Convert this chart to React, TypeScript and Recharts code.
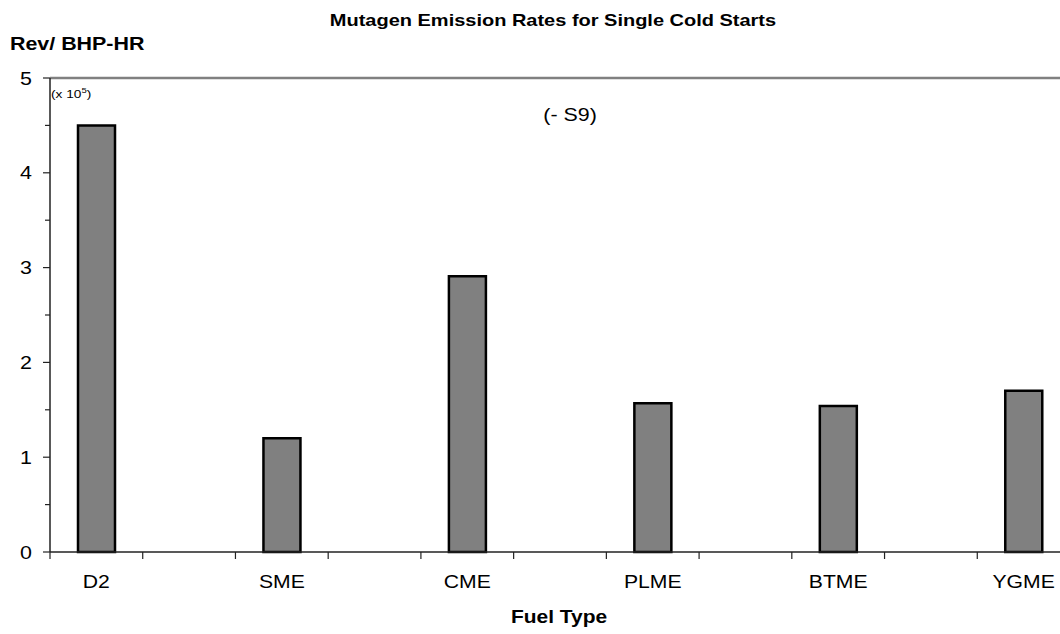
import React from 'react';
import { BarChart, Bar, XAxis, YAxis, ReferenceLine } from 'recharts';

// fuel types, with empty slots between them on the category axis
const fuelTypes = ['D2', 'SME', 'CME', 'PLME', 'BTME', 'YGME'];
// revertants per BHP-HR, in units of 10^5
const mutagenRates = [4.5, 1.2, 2.91, 1.57, 1.54, 1.7];
const yTicks = [0, 0.5, 1, 1.5, 2, 2.5, 3, 3.5, 4, 4.5, 5];

const data: Array<{ name: string; rate: number | null }> = [];
fuelTypes.forEach((name, i) => {
  if (i > 0) data.push({ name: '', rate: null });
  data.push({ name, rate: mutagenRates[i] });
});

const FONT = '"Liberation Sans", Arial, sans-serif';
const STRETCH = 1.19;

// text drawn slightly wider than the font's own proportions
const WideText = ({ x, y, size, bold, anchor = 'start', children }: any) => (
  <text
    transform={`translate(${x},${y}) scale(${STRETCH},1)`}
    fontSize={size}
    fontWeight={bold ? 'bold' : 'normal'}
    textAnchor={anchor}
    fill="#000"
    fontFamily={FONT}
  >
    {children}
  </text>
);

const YTick = ({ x, y, payload }: any) => {
  const major = Number.isInteger(payload.value);
  return (
    <g>
      <line x1={x - (major ? 7 : 5)} x2={x} y1={y} y2={y} stroke="#222" strokeWidth={1.2} />
      {major && (
        <WideText x={x - 18} y={y + 6.5} size={18} anchor="end">
          {payload.value}
        </WideText>
      )}
    </g>
  );
};

const XTick = ({ x, y, payload }: any) => {
  const edge = x - (payload.offset ?? 0);
  return (
    <g>
      <line x1={edge} x2={edge} y1={y} y2={y + 7} stroke="#222" strokeWidth={1.2} />
      {payload.value && (
        <WideText x={x} y={y + 36} size={17.8} anchor="middle">
          {payload.value}
        </WideText>
      )}
    </g>
  );
};

const App = () => {
  return (
    <div
      style={{
        position: 'fixed',
        left: 0,
        top: 0,
        width: 1060,
        height: 634,
        overflow: 'hidden',
        background: '#fff',
        fontFamily: FONT,
      }}
    >
      <BarChart width={1090} height={634} data={data} margin={{ top: 78, right: 20, left: 0, bottom: 0 }}>
        <ReferenceLine y={5} stroke="#808080" strokeWidth={2.6} />
        <XAxis
          dataKey="name"
          height={82}
          interval={0}
          tickSize={0}
          tickMargin={0}
          tickLine={false}
          tick={<XTick />}
          axisLine={{ stroke: '#222', strokeWidth: 1.5 }}
        />
        <YAxis
          width={50}
          domain={[0, 5]}
          ticks={yTicks}
          interval={0}
          tickSize={0}
          tickMargin={0}
          tickLine={false}
          tick={<YTick />}
          axisLine={{ stroke: '#222', strokeWidth: 1.5 }}
        />
        <Bar dataKey="rate" fill="#808080" stroke="#000" strokeWidth={2.5} barSize={37} isAnimationActive={false} />
      </BarChart>
      <svg width={1060} height={634} style={{ position: 'absolute', left: 0, top: 0, pointerEvents: 'none' }}>
        <WideText x={553} y={26} size={16.8} bold anchor="middle">
          Mutagen Emission Rates for Single Cold Starts
        </WideText>
        <WideText x={10} y={50} size={18} bold>
          Rev/ BHP-HR
        </WideText>
        <WideText x={51} y={98} size={11.5}>
          (x 10<tspan fontSize={8} dy={-5}>5</tspan>
          <tspan dy={5}>)</tspan>
        </WideText>
        <WideText x={570} y={121} size={18} anchor="middle">
          (- S9)
        </WideText>
        <WideText x={559} y={623} size={17.6} bold anchor="middle">
          Fuel Type
        </WideText>
      </svg>
    </div>
  );
};

export default App;
